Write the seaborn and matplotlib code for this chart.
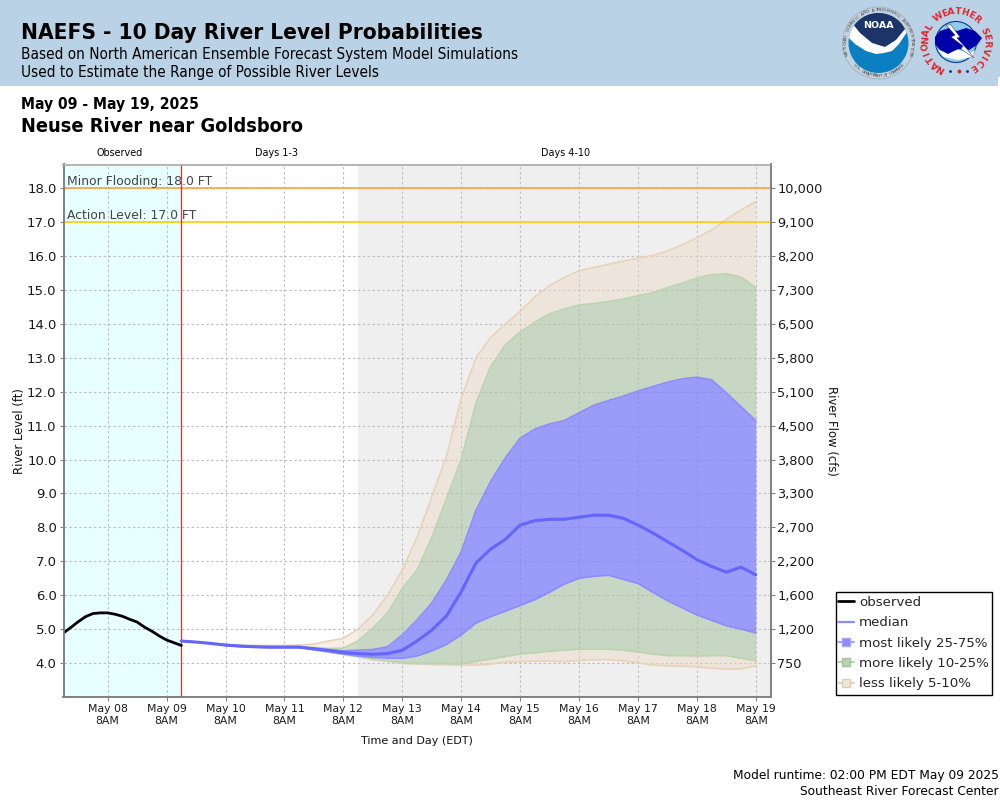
import numpy as np
import pandas as pd
import matplotlib
matplotlib.use("Agg")
import matplotlib.pyplot as plt
from matplotlib import font_manager as fm
from matplotlib.patches import Circle, Wedge, Rectangle, Polygon
from matplotlib.lines import Line2D
import seaborn as sns

sns.set_theme(style="white")
plt.rcParams["font.family"] = ["DejaVu Sans"]

level_ticks = [4.0, 5.0, 6.0, 7.0, 8.0, 9.0, 10.0, 11.0, 12.0, 13.0, 14.0, 15.0, 16.0, 17.0, 18.0]
flow_labels = ["750", "1,200", "1,600", "2,200", "2,700", "3,300", "3,800", "4,500", "5,100",
               "5,800", "6,500", "7,300", "8,200", "9,100", "10,000"]
tick_days = ["May 08", "May 09", "May 10", "May 11", "May 12", "May 13", "May 14", "May 15",
             "May 16", "May 17", "May 18", "May 19"]

observed = [4.89, 5.05, 5.22, 5.37, 5.46, 5.48, 5.48, 5.44, 5.38, 5.29, 5.21, 5.06, 4.94, 4.80, 4.68, 4.60, 4.52]

median = [4.65, 4.62, 4.58, 4.53, 4.50, 4.48, 4.47, 4.47, 4.47, 4.42, 4.37, 4.31, 4.28, 4.26, 4.28, 4.38,
          4.65, 4.97, 5.39, 6.10, 6.95, 7.36, 7.65, 8.07, 8.20, 8.24, 8.24, 8.30, 8.36, 8.36,
          8.27, 8.07, 7.84, 7.58, 7.33, 7.05, 6.85, 6.68, 6.83, 6.60]
p75 = [4.65, 4.62, 4.58, 4.54, 4.51, 4.49, 4.48, 4.48, 4.48, 4.44, 4.40, 4.36, 4.38, 4.40, 4.48, 4.83,
       5.27, 5.77, 6.45, 7.28, 8.50, 9.35, 10.05, 10.63, 10.90, 11.05, 11.15, 11.38, 11.60, 11.74,
       11.87, 12.02, 12.15, 12.28, 12.38, 12.43, 12.35, 11.97, 11.56, 11.15]
p25 = [4.65, 4.62, 4.58, 4.52, 4.49, 4.47, 4.46, 4.46, 4.46, 4.40, 4.34, 4.27, 4.21, 4.17, 4.15, 4.14,
       4.21, 4.36, 4.55, 4.83, 5.18, 5.37, 5.53, 5.70, 5.87, 6.09, 6.33, 6.50, 6.56, 6.59,
       6.47, 6.35, 6.09, 5.84, 5.63, 5.42, 5.26, 5.10, 5.00, 4.89]
p90 = [4.65, 4.62, 4.58, 4.55, 4.52, 4.50, 4.49, 4.49, 4.49, 4.46, 4.43, 4.44, 4.65, 5.03, 5.47, 6.20,
       6.74, 7.70, 8.85, 10.00, 11.66, 12.74, 13.38, 13.76, 14.05, 14.30, 14.44, 14.56, 14.60, 14.66,
       14.73, 14.83, 14.92, 15.07, 15.20, 15.35, 15.45, 15.48, 15.38, 15.07]
p10 = [4.65, 4.62, 4.58, 4.52, 4.49, 4.47, 4.46, 4.46, 4.46, 4.39, 4.32, 4.26, 4.20, 4.12, 4.07, 4.01,
       3.99, 3.99, 3.98, 3.98, 4.05, 4.12, 4.19, 4.27, 4.30, 4.35, 4.38, 4.41, 4.41, 4.41,
       4.38, 4.33, 4.27, 4.22, 4.22, 4.21, 4.22, 4.22, 4.14, 4.07]
p95 = [4.65, 4.62, 4.58, 4.55, 4.53, 4.52, 4.52, 4.52, 4.53, 4.56, 4.65, 4.73, 5.00, 5.42, 6.00, 6.74,
       7.70, 8.90, 10.10, 11.80, 13.00, 13.60, 14.00, 14.37, 14.80, 15.13, 15.37, 15.57, 15.66, 15.76,
       15.85, 15.94, 16.02, 16.15, 16.33, 16.54, 16.77, 17.08, 17.36, 17.60]
p05 = [4.65, 4.62, 4.58, 4.52, 4.49, 4.47, 4.46, 4.46, 4.46, 4.39, 4.32, 4.25, 4.18, 4.10, 4.05, 3.99,
       3.97, 3.96, 3.95, 3.94, 3.94, 3.97, 4.03, 4.04, 4.06, 4.06, 4.04, 4.08, 4.10, 4.10,
       4.07, 4.01, 3.94, 3.92, 3.91, 3.89, 3.85, 3.82, 3.83, 3.92]

t_obs = pd.date_range("2025-05-07 14:00", periods=len(observed), freq="3h")
t_fc = pd.date_range("2025-05-09 14:00", periods=len(median), freq="6h")
t0, t1 = pd.Timestamp("2025-05-07 14:00"), pd.Timestamp("2025-05-19 14:00")
t_split = pd.Timestamp("2025-05-09 14:00")
t_day4 = pd.Timestamp("2025-05-12 14:00")

W, H = 1000, 800
fig = plt.figure(figsize=(W / 100, H / 100), dpi=100, facecolor="white")

def px_axes(x0, y0, x1, y1, **kw):
    return fig.add_axes([x0 / W, 1 - y1 / H, (x1 - x0) / W, (y1 - y0) / H], **kw)

has_condensed = any(f.name == "DejaVu Sans" and f.stretch == "condensed" for f in fm.fontManager.ttflist) \
    or any("Condensed" in f.name and "DejaVu" in f.name for f in fm.fontManager.ttflist)
cond_family = "DejaVu Sans"
if any(f.name == "DejaVu Sans Condensed" for f in fm.fontManager.ttflist):
    cond_family = "DejaVu Sans Condensed"

# header band + page text
bg = fig.add_axes([0, 0, 1, 1], zorder=-5)
bg.set_xlim(0, W)
bg.set_ylim(H, 0)
bg.axis("off")
bg.add_patch(Rectangle((0, 0), W, 85.5, fc="#BAD2E5", ec="none"))
bg.add_patch(Rectangle((998, 77), 2, 9, fc="white", ec="none"))
c_kw = dict(family=cond_family, stretch="condensed", color="black", va="center")
sz = 1.0 if has_condensed else 0.93
bg.text(21, 33, "NAEFS - 10 Day River Level Probabilities", fontsize=16.2 * sz, fontweight="bold", **c_kw)
bg.text(21, 54, "Based on North American Ensemble Forecast System Model Simulations", fontsize=11 * sz, **c_kw)
bg.text(21, 73, "Used to Estimate the Range of Possible River Levels", fontsize=11 * sz, **c_kw)
bg.text(21, 105, "May 09 - May 19, 2025", fontsize=11.25 * sz, fontweight="bold", **c_kw)
bg.text(21, 126, "Neuse River near Goldsboro", fontsize=14.35 * sz, fontweight="bold", **c_kw)
bg.text(120, 153.5, "Observed", fontsize=6.9, ha="center", va="center", color="black")
bg.text(276.5, 153.5, "Days 1-3", fontsize=6.9, ha="center", va="center", color="black")
bg.text(566, 153.5, "Days 4-10", fontsize=6.9, ha="center", va="center", color="black")
bg.text(999, 775.5, "Model runtime: 02:00 PM EDT May 09 2025", fontsize=8.85, ha="right", va="center", color="black")
bg.text(999, 791.5, "Southeast River Forecast Center", fontsize=8.85, ha="right", va="center", color="black")

def ring_text(cx, cy, r, s, a0, a1, clockwise=True, **kw):
    """Place characters one by one along a circle; angles in degrees, math convention."""
    n = len(s)
    for i, ch in enumerate(s):
        a = a0 + (a1 - a0) * i / (n - 1)
        x = cx + r * np.cos(np.radians(a))
        y = cy - r * np.sin(np.radians(a))
        rot = a - 90 if clockwise else a + 90
        bg.text(x, y, ch, rotation=rot, rotation_mode="anchor", ha="center", va="center", **kw)

# NOAA emblem
nc = (878.5, 43)
bg.add_patch(Circle(nc, 36, fc="#C6D3DD", ec="#9aa8b3", lw=0.5))
disc = Circle(nc, 30, fc="#0A7FC2", ec="none")
bg.add_patch(disc)
navy = Polygon([(845, 5), (912, 5), (912, 20), (905, 29), (896, 40), (885, 47), (872, 43), (860, 33), (852, 23), (845, 20)],
               fc="#1C3468", ec="none")
bg.add_patch(navy)
navy.set_clip_path(disc)
gull = Polygon([(845, 22), (852, 23), (860, 33), (872, 43), (885, 47), (896, 40), (905, 29), (907, 32), (899, 44),
                (892, 51), (884, 53), (876, 54), (866, 51), (855, 44), (846, 35)], fc="white", ec="none")
bg.add_patch(gull)
gull.set_clip_path(disc)
bg.text(878, 25.5, "NOAA", fontsize=6.8, fontweight="bold", color="white", ha="center", va="center")
ring_text(nc[0], nc[1], 33, "NATIONAL OCEANIC AND ATMOSPHERIC ADMINISTRATION", 200, -20, True,
          fontsize=3.2, color="#3d4a55")
ring_text(nc[0], nc[1], 33, "U.S. DEPARTMENT OF COMMERCE", 222, 318, False, fontsize=3.2, color="#3d4a55")

# NWS emblem
wc = (956, 42)
outer = Circle(wc, 20.5, fc="#8ECBEA", ec="#0B3A8C", lw=0.8)
bg.add_patch(outer)
lower = Polygon([(938, 50), (948, 52), (958, 50), (970, 53), (975, 50), (972, 57), (958, 60), (944, 57)], fc="white", ec="none")
bg.add_patch(lower)
cloud = Polygon([(935, 37), (940, 31), (949, 28), (957, 31), (966, 28), (975, 31), (982, 38), (977, 45), (969, 50),
                 (958, 49), (948, 54), (940, 50), (935, 44)], fc="#0000A8", ec="none")
bg.add_patch(cloud)
bolt = Polygon([(946, 25), (951, 25), (960, 37), (957, 38), (967, 49), (974, 58), (961, 49), (963, 46), (951, 37), (955, 35)],
               fc="white", ec="#1a1a80", lw=0.3)
bg.add_patch(bolt)
ring_text(wc[0], wc[1], 30.5, "NATIONAL WEATHER SERVICE", 240, -55, True, fontsize=6.6, fontweight="bold", color="#E0262B")
for x, col, ms in ((950, "#1a2f8c", 1.6), (958.5, "#E0262B", 2.2), (967, "#1a2f8c", 1.6)):
    bg.plot([x], [71.3], marker="o", ms=ms * 1.3, color=col, mec="none", ls="none")

# main axes
ax = px_axes(63.5, 164.5, 770.5, 697)
ax.set_zorder(2)
ax.set_facecolor("white")
ax.axvspan(t0, t_split, fc="#E8FFFF", ec="none", zorder=0)
ax.axvspan(t_day4, t1, fc="#EFEFEF", ec="none", zorder=0)

tick_times = pd.date_range("2025-05-08 08:00", periods=len(tick_days), freq="24h")
ax.set_xticks(tick_times)
ax.set_xticklabels([f"{d}\n8AM" for d in tick_days], fontsize=7.8, color="#1a1a1a", linespacing=1.3)
ax.set_yticks(level_ticks)
ax.set_yticklabels([f"{v:.1f}" for v in level_ticks], fontsize=9.5, color="#1a1a1a")
ax.grid(True, color="#BEBEBE", lw=0.8, ls=(0, (2.2, 2.2)))
ax.set_axisbelow(True)

ax.fill_between(t_fc, p90, p95, color="#ECD8BF", alpha=0.4, lw=0, zorder=2)
ax.fill_between(t_fc, p05, p10, color="#ECD8BF", alpha=0.4, lw=0, zorder=2)
ax.fill_between(t_fc, p75, p90, color="#AEC7A6", alpha=0.6, lw=0, zorder=2)
ax.fill_between(t_fc, p10, p25, color="#AEC7A6", alpha=0.6, lw=0, zorder=2)
ax.fill_between(t_fc, p25, p75, color="#7B7BFF", alpha=0.72, lw=0, zorder=2.1)
for s in (p95, p05):
    ax.plot(t_fc, s, color="#E8D2B8", lw=1.2, zorder=2.2)
for s in (p90, p10):
    ax.plot(t_fc, s, color="#BAD4B0", lw=1.2, zorder=2.2)
for s in (p75, p25):
    ax.plot(t_fc, s, color="#8C8CFF", lw=1.2, zorder=2.3)

ax.axhline(18.0, color="#FFA040", lw=1.2, zorder=3)
ax.axhline(17.0, color="#FFD000", lw=1.2, zorder=3)
ax.axvline(t_split, color="#E03030", lw=0.9, zorder=3)

sns.lineplot(x=t_fc, y=median, ax=ax, color="#6464FF", lw=2.2, legend=False, zorder=4, errorbar=None)
sns.lineplot(x=t_obs, y=observed, ax=ax, color="black", lw=2.0, legend=False, zorder=5, errorbar=None)

ax.text(pd.Timestamp("2025-05-07 15:30"), 18.0 + 0.2, "Minor Flooding: 18.0 FT", fontsize=8.9, color="#444444", va="center", zorder=6)
ax.text(pd.Timestamp("2025-05-07 15:30"), 17.0 + 0.2, "Action Level: 17.0 FT", fontsize=8.9, color="#444444", va="center", zorder=6)

ax.set_xlim(t0, t1)
ax.set_ylim(3.0, 18.7)
ax.set_xlabel("Time and Day (EDT)", fontsize=8, color="#111111", labelpad=7)
ax.set_ylabel("River Level (ft)", fontsize=8.4, color="#111111", labelpad=1)
ax.tick_params(axis="both", which="major", length=3, width=0.8, color="#808080", bottom=True, left=True, pad=2)
for s in ax.spines.values():
    s.set_color("#808080")
    s.set_linewidth(1.2)

ax2 = ax.twinx()
ax2.set_ylim(ax.get_ylim())
ax2.set_yticks(level_ticks)
ax2.set_yticklabels(flow_labels, fontsize=9.3, color="#1a1a1a")
ax2.tick_params(axis="y", length=3, width=0.8, color="#808080", right=True, pad=2)
ax2.grid(False)
ax2.set_ylabel("River Flow (cfs)", fontsize=8.4, rotation=270, color="#111111", labelpad=11)
for s in ax2.spines.values():
    s.set_color("#808080")
    s.set_linewidth(1.2)
for a in (ax, ax2):
    a.spines["top"].set_color("#B4B4B4")

handles = [
    Line2D([], [], color="black", lw=2),
    Line2D([], [], color="#8C8CFF", lw=1.6),
    Line2D([], [], color="#A5A5FF", lw=1.6, marker="s", ms=5.2, mfc="#8C8CFF", mec="#A5A5FF"),
    Line2D([], [], color="#B7D3B0", lw=1.6, marker="s", ms=5.2, mfc="#B7D3B0", mec="#A5C5A0"),
    Line2D([], [], color="#E6D3BC", lw=1.6, marker="s", ms=5.2, mfc="#EFE5D8", mec="#E0CDB4"),
]
bg.add_patch(Rectangle((835.5, 591.5), 156, 103.5, fc="white", ec="black", lw=1.0))
leg_ax = px_axes(838, 591.5, 990, 695)
leg_ax.set_zorder(6)
leg_ax.axis("off")
leg_ax.legend(handles, ["observed", "median", "most likely 25-75%", "more likely 10-25%", "less likely 5-10%"],
              loc="center left", bbox_to_anchor=(0, 0.5), fontsize=9.6, frameon=False,
              handlelength=1.2, handletextpad=0.38, labelspacing=0.55,
              borderpad=0, borderaxespad=0)

fig.savefig("out.png", dpi=100, facecolor="white")
